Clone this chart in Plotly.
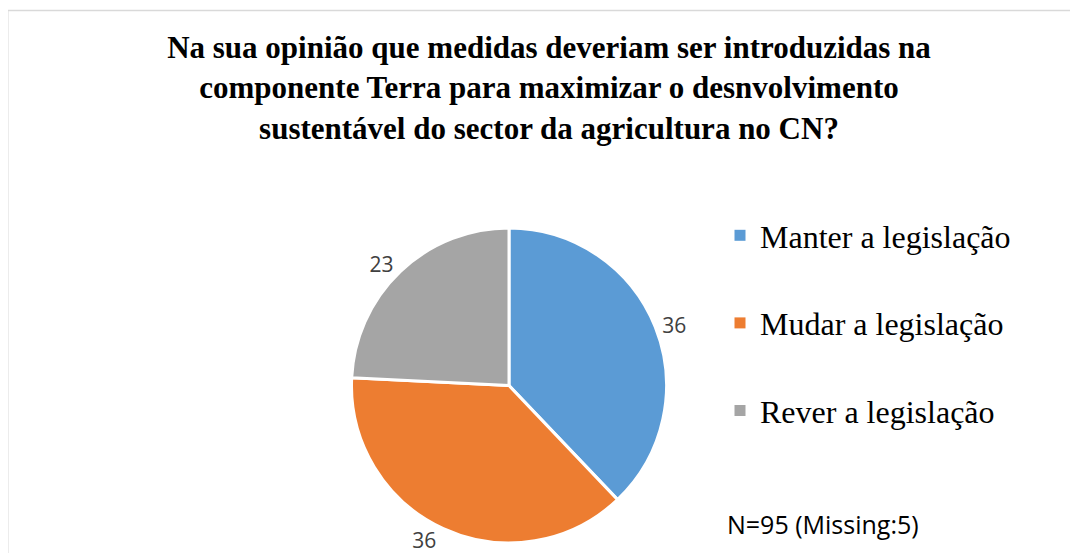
import plotly.graph_objects as go

labels = ["Manter a legislação", "Mudar a legislação", "Rever a legislação"]
values = [36, 36, 23]
colors = ["#5B9BD5", "#ED7D31", "#A5A5A5"]
title_text = ("Na sua opinião que medidas deveriam ser introduzidas na<br>"
              "componente Terra para maximizar o desnvolvimento<br>"
              "sustentável do sector da agricultura no CN?")
note_text = "N=95 (Missing:5)"

W, H = 1078, 553
OFF = 8  # page body margin offset


def px(x):
    return (x - OFF) / W


def py(y):
    return 1 - (y - OFF) / H


fig = go.Figure()
fig.add_trace(go.Pie(
    labels=labels, values=values, sort=False, direction="clockwise", rotation=0,
    marker=dict(colors=colors, line=dict(color="white", width=3)),
    textinfo="value", textposition="outside",
    textfont=dict(family="Open Sans", size=21, color="#404040"),
    showlegend=False, hole=0,
    domain=dict(x=[px(509 - 158), px(509 + 158)], y=[py(543), py(228)]),
))
for lab, col in zip(labels, colors):
    fig.add_trace(go.Scatter(
        x=[None], y=[None], mode="markers", name=lab, legendgroup=lab,
        marker=dict(symbol="square", size=11, color=col), showlegend=True,
    ))

fig.update_layout(
    width=W, height=H,
    margin=dict(l=0, r=0, t=0, b=0),
    paper_bgcolor="white", plot_bgcolor="white",
    xaxis=dict(visible=False), yaxis=dict(visible=False),
    title=dict(text=title_text, x=px(549), xanchor="center", y=py(58), yanchor="top",
               font=dict(family="Liberation Serif", size=31, color="black", weight="bold")),
    legend=dict(x=px(720), xanchor="left", y=py(208), yanchor="top",
                font=dict(family="Liberation Serif", size=32, color="black"),
                tracegroupgap=43, bgcolor="rgba(0,0,0,0)"),
    annotations=[dict(text=note_text, x=px(725), y=py(524), xref="paper", yref="paper",
                      xanchor="left", yanchor="middle", showarrow=False,
                      font=dict(family="Open Sans", size=25, color="black"))],
    shapes=[
        dict(type="line", xref="paper", yref="paper", x0=px(7.5), x1=px(7.5), y0=-0.1, y1=py(10),
             line=dict(color="#D9D9D9", width=2)),
        dict(type="line", xref="paper", yref="paper", x0=px(7), x1=1.1, y0=py(10.5), y1=py(10.5),
             line=dict(color="#D9D9D9", width=1.5)),
    ],
)
fig.write_html("out.html")
